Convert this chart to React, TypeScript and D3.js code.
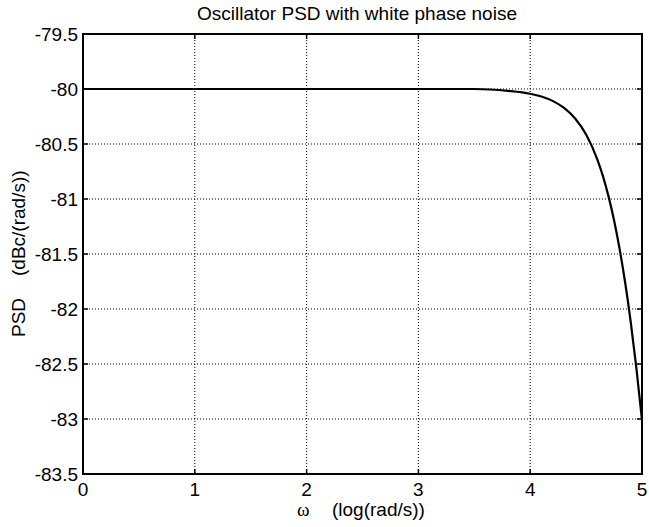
import React from "react";
import * as d3 from "d3";

const xTicks = [0, 1, 2, 3, 4, 5];
const yTicks = [-79.5, -80, -80.5, -81, -81.5, -82, -82.5, -83, -83.5];
const logOmega = [0, 1, 2, 3, 3.5, 3.8, 4.0, 4.1, 4.2, 4.3, 4.4, 4.5, 4.6, 4.65, 4.7, 4.75, 4.8, 4.85, 4.9, 4.95, 5.0];
const psd = [-80, -80, -80, -80, -80, -80.017, -80.043, -80.068, -80.108, -80.17, -80.266, -80.414, -80.639, -80.79, -80.974, -81.193, -81.456, -81.764, -82.125, -82.539, -83.01];

const W = 649, H = 527;
const L = 83, R = 642, T = 34, B = 474;
const FONT = "'Liberation Sans', Arial, Helvetica, sans-serif";
const SERIF = "'Liberation Serif', 'Times New Roman', serif";

export default function App() {
  const x = d3.scaleLinear().domain([0, 5]).range([L, R]);
  const y = d3.scaleLinear().domain([-83.5, -79.5]).range([B, T]);
  const line = d3.line<number>().x((_, i) => x(logOmega[i])).y((d) => y(d)).curve(d3.curveMonotoneX);
  return (
    <svg width={W} height={H} style={{ position: "absolute", left: 0, top: 0, background: "#fff" }}>
      <rect x={0} y={0} width={W} height={H} fill="#fff" />
      {xTicks.slice(1, -1).map((t) => (
        <line key={"gx" + t} x1={x(t)} x2={x(t)} y1={T} y2={B} stroke="#000" strokeWidth={1} strokeDasharray="1,2" />
      ))}
      {yTicks.slice(1, -1).map((t) => (
        <line key={"gy" + t} x1={L} x2={R} y1={y(t)} y2={y(t)} stroke="#000" strokeWidth={1} strokeDasharray="1,2" />
      ))}
      {xTicks.map((t) => (
        <g key={"tx" + t}>
          <line x1={x(t)} x2={x(t)} y1={B} y2={B - 5} stroke="#000" strokeWidth={1.5} />
          <line x1={x(t)} x2={x(t)} y1={T} y2={T + 5} stroke="#000" strokeWidth={1.5} />
          <text x={x(t)} y={496} textAnchor="middle" fontFamily={FONT} fontSize={19}>{t}</text>
        </g>
      ))}
      {yTicks.map((t) => (
        <g key={"ty" + t}>
          <line x1={L} x2={L + 5} y1={y(t)} y2={y(t)} stroke="#000" strokeWidth={1.5} />
          <line x1={R} x2={R - 5} y1={y(t)} y2={y(t)} stroke="#000" strokeWidth={1.5} />
          <text x={L - 5} y={y(t)} dy="0.35em" textAnchor="end" fontFamily={FONT} fontSize={19}>{t}</text>
        </g>
      ))}
      <path d={line(psd) || ""} fill="none" stroke="#000" strokeWidth={2.2} />
      <rect x={L} y={T} width={R - L} height={B - T} fill="none" stroke="#000" strokeWidth={2} />
      <text x={357} y={20} textAnchor="middle" fontFamily={FONT} fontSize={19}>Oscillator PSD with white phase noise</text>
      <text x={297} y={516} fontFamily={SERIF} fontSize={19}>ω</text>
      <text x={332} y={516} fontFamily={FONT} fontSize={19}>(log(rad/s))</text>
      <g transform={`translate(25,337) rotate(-90)`}>
        <text x={0} y={0} fontFamily={FONT} fontSize={19}>PSD</text>
        <text x={61} y={0} fontFamily={FONT} fontSize={19}>(dBc/(rad/s))</text>
      </g>
    </svg>
  );
}
